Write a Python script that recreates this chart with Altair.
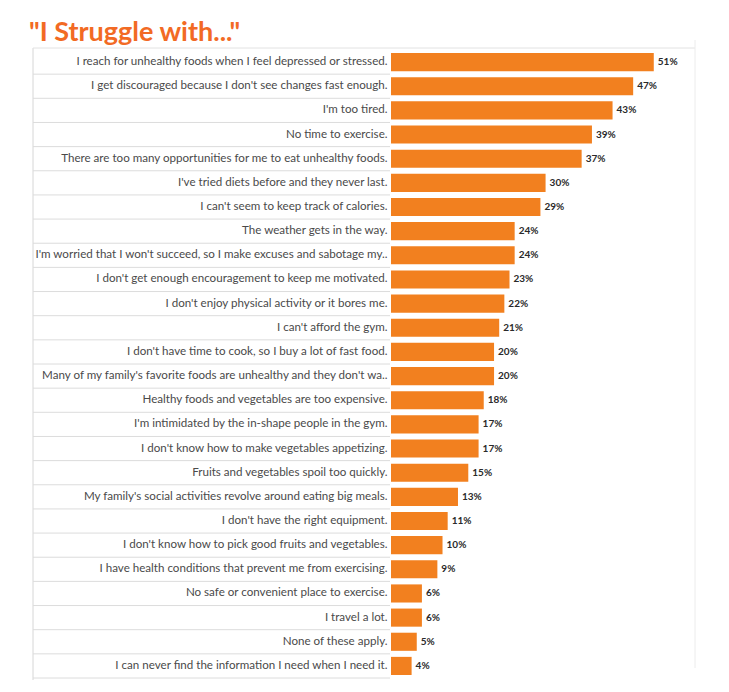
import altair as alt
import pandas as pd

title_text = '"I Struggle with..."'

labels = [
    "I reach for unhealthy foods when I feel depressed or stressed.",
    "I get discouraged because I don't see changes fast enough.",
    "I'm too tired.",
    "No time to exercise.",
    "There are too many opportunities for me to eat unhealthy foods.",
    "I've tried diets before and they never last.",
    "I can't seem to keep track of calories.",
    "The weather gets in the way.",
    "I'm worried that I won't succeed, so I make excuses and sabotage my..",
    "I don't get enough encouragement to keep me motivated.",
    "I don't enjoy physical activity or it bores me.",
    "I can't afford the gym.",
    "I don't have time to cook, so I buy a lot of fast food.",
    "Many of my family's favorite foods are unhealthy and they don't wa..",
    "Healthy foods and vegetables are too expensive.",
    "I'm intimidated by the in-shape people in the gym.",
    "I don't know how to make vegetables appetizing.",
    "Fruits and vegetables spoil too quickly.",
    "My family's social activities revolve around eating big meals.",
    "I don't have the right equipment.",
    "I don't know how to pick good fruits and vegetables.",
    "I have health conditions that prevent me from exercising.",
    "No safe or convenient place to exercise.",
    "I travel a lot.",
    "None of these apply.",
    "I can never find the information I need when I need it.",
]

values = [51, 47, 43, 39, 37, 30, 29, 24, 24, 23, 22, 21, 20, 20, 18, 17, 17, 15, 13, 11, 10, 9, 6, 6, 5, 4]

df = pd.DataFrame({"label": labels, "value": values})
df["pct"] = df["value"].astype(str) + "%"

ORANGE = "#F2801F"
W, H = 304, 628

y_enc = alt.Y(
    "label:N",
    sort=labels,
    scale=alt.Scale(paddingInner=0, paddingOuter=0),
    axis=alt.Axis(
        title=None, domain=False, ticks=False, labelPadding=4, labelLimit=420,
        labelFont="Lato", labelFontSize=11.6, labelColor="#4a4a4a", labelAlign="right",
    ),
)
x_enc = alt.X("value:Q", scale=alt.Scale(domain=[0, 59]), axis=None)

base = alt.Chart(df)

bars = base.mark_bar(color=ORANGE, height={"band": 0.75}).encode(x=x_enc, y=y_enc)

vals = base.mark_text(
    align="left", dx=4, font="Lato", fontWeight="bold", fontSize=10, color="#2a2a2a"
).encode(x=x_enc, y=alt.Y("label:N", sort=labels), text="pct:N")

seps = base.mark_rule(color="#dcdcdc", strokeWidth=1).encode(
    y=alt.Y("label:N", sort=labels, bandPosition=1),
    x=alt.value(-358),
    x2=alt.value(-1),
)

frame_df = pd.DataFrame({"k": [0]})
left_border = alt.Chart(frame_df).mark_rule(color="#d6d6d6").encode(
    x=alt.value(-358), y=alt.value(-2), y2=alt.value(H + 2)
)
top_border = alt.Chart(frame_df).mark_rule(color="#e2e2e2").encode(
    x=alt.value(-358), x2=alt.value(W), y=alt.value(-2)
)
right_border = alt.Chart(frame_df).mark_rule(color="#ececec").encode(
    x=alt.value(W), y=alt.value(-10), y2=alt.value(H - 10)
)

title = alt.Chart(pd.DataFrame({"t": [title_text]})).mark_text(
    align="left", baseline="alphabetic", font="Lato", fontWeight="bold",
    fontSize=27, color="#F26A24"
).encode(text="t:N", x=alt.value(-362), y=alt.value(-9))

chart = alt.layer(
    left_border, top_border, right_border, seps, bars, vals, title
).properties(
    width=W, height=H,
    autosize=alt.AutoSizeParams(type="none"),
    padding={"left": 391, "top": 50, "right": 34, "bottom": 14},
    background="white",
).configure_view(stroke=None)

chart.save("out.html", embed_options={"renderer": "svg", "actions": False})
